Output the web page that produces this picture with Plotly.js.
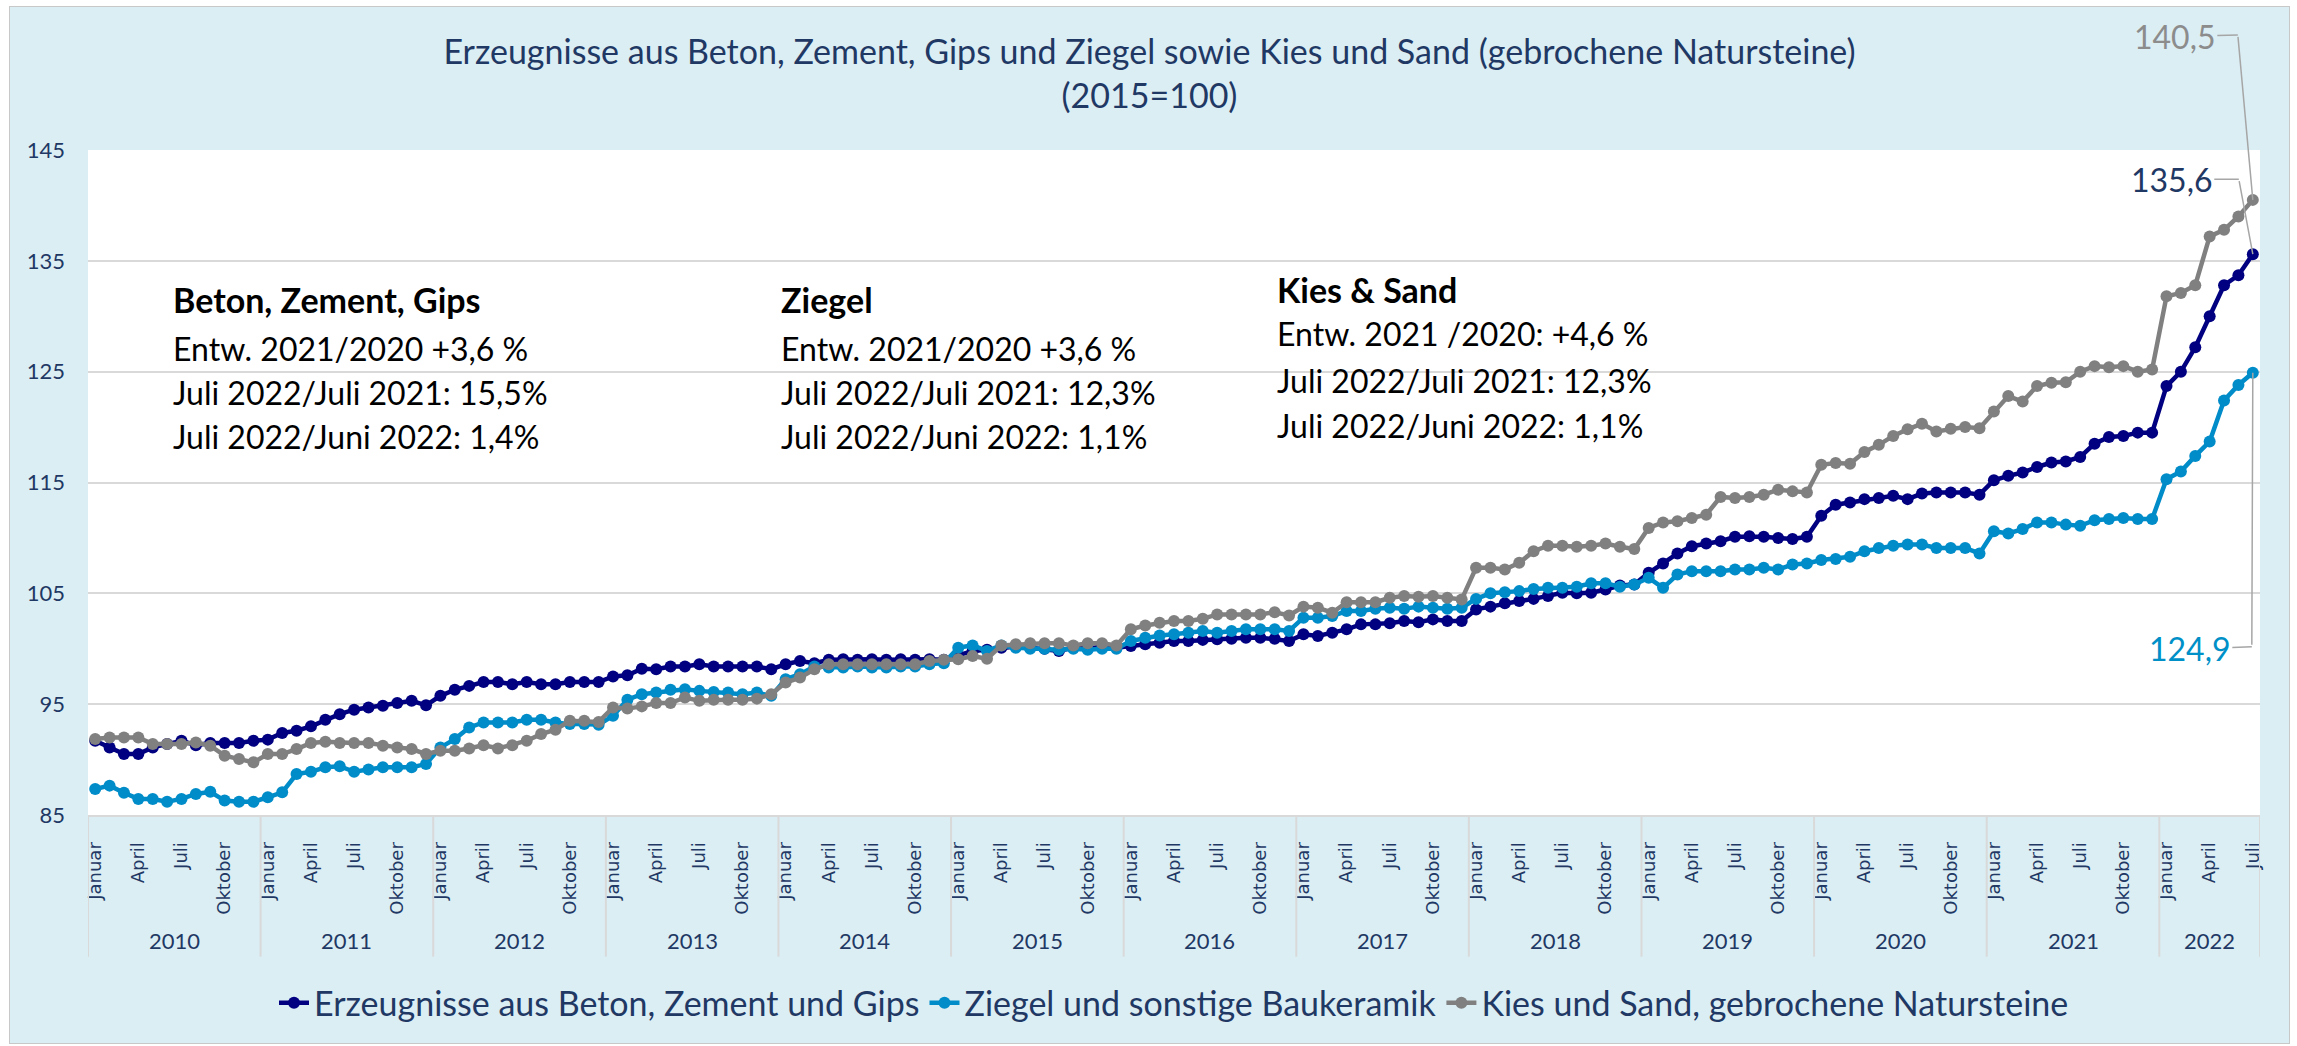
<!DOCTYPE html>
<html>
<head>
<meta charset="utf-8">
<script src="https://cdn.plot.ly/plotly-3.0.1.min.js"></script>
<style>
html, body { margin: 0; padding: 0; background: #ffffff; }
#frame { position: absolute; left: 9px; top: 6px; border: 1px solid #C8C8C8; width: 2279px; height: 1036px; }
#chart { width: 2279px; height: 1036px; }
</style>
</head>
<body>
<div id="frame"><div id="chart"></div></div>
<script>
// ---------- data ----------
const years = [2010, 2011, 2012, 2013, 2014, 2015, 2016, 2017, 2018, 2019, 2020, 2021, 2022];
const monthNames = ['Januar', 'Februar', 'März', 'April', 'Mai', 'Juni', 'Juli', 'August', 'September', 'Oktober', 'November', 'Dezember'];
const labelledMonths = ['Januar', 'April', 'Juli', 'Oktober'];
const seriesNames = ['Erzeugnisse aus Beton, Zement und Gips', 'Ziegel und sonstige Baukeramik', 'Kies und Sand, gebrochene Natursteine'];

// Erzeugnisse aus Beton, Zement und Gips (Jan 2010 - Jul 2022)
const beton = [
  91.7, 91.1, 90.5, 90.5, 91.1, 91.4, 91.7, 91.3, 91.5, 91.5, 91.5, 91.7,
  91.8, 92.4, 92.6, 93.0, 93.6, 94.1, 94.5, 94.7, 94.85, 95.1, 95.3, 94.9,
  95.75, 96.3, 96.65, 97.0, 97.0, 96.8, 97.0, 96.8, 96.8, 97.0, 97.0, 97.0,
  97.5, 97.6, 98.2, 98.15, 98.4, 98.4, 98.6, 98.4, 98.4, 98.4, 98.4, 98.15,
  98.6, 98.9, 98.7, 99.0, 99.05, 99.0, 99.05, 99.0, 99.05, 99.0, 99.05, 99.0,
  99.4, 99.8, 99.9, 100.1, 100.2, 100.1, 100.0, 99.8, 100.1, 100.0, 100.2, 100.1,
  100.25, 100.4, 100.55, 100.7, 100.7, 100.8, 100.85, 100.9, 101.0, 101.0, 100.9, 100.7,
  101.3, 101.15, 101.45, 101.75, 102.2, 102.2, 102.3, 102.5, 102.4, 102.65, 102.5, 102.5,
  103.55, 103.8, 104.1, 104.3, 104.5, 104.75, 105.05, 105.0, 105.05, 105.35, 105.7, 105.8,
  106.85, 107.7, 108.6, 109.25, 109.5, 109.7, 110.1, 110.15, 110.1, 110.0, 109.9, 110.1,
  112.0, 113.0, 113.2, 113.5, 113.6, 113.8, 113.5, 114.0, 114.1, 114.1, 114.1, 113.9,
  115.2, 115.6, 115.9, 116.4, 116.8, 116.9, 117.3, 118.5, 119.1, 119.2, 119.5, 119.5,
  123.7, 125.0, 127.2, 130.0, 132.8, 133.7, 135.6
];

// Ziegel und sonstige Baukeramik
const ziegel = [
  87.35, 87.65, 87.0, 86.45, 86.45, 86.2, 86.45, 86.9, 87.1, 86.3, 86.2, 86.2,
  86.6, 87.05, 88.7, 88.9, 89.3, 89.4, 88.9, 89.1, 89.3, 89.3, 89.3, 89.6,
  91.1, 91.85, 92.9, 93.35, 93.35, 93.35, 93.6, 93.6, 93.35, 93.2, 93.2, 93.15,
  93.95, 95.4, 95.9, 96.05, 96.3, 96.35, 96.2, 96.1, 96.05, 95.9, 96.05, 95.75,
  97.25, 97.7, 98.4, 98.3, 98.3, 98.4, 98.3, 98.3, 98.4, 98.4, 98.6, 98.7,
  100.1, 100.3, 99.8, 100.3, 100.1, 100.0, 100.0, 99.9, 100.0, 99.9, 100.0, 100.0,
  100.7, 101.0, 101.2, 101.3, 101.45, 101.6, 101.45, 101.6, 101.75, 101.75, 101.75, 101.6,
  102.8, 102.8, 102.95, 103.4, 103.4, 103.6, 103.7, 103.6, 103.8, 103.7, 103.6, 103.7,
  104.5, 105.0, 105.1, 105.2, 105.4, 105.5, 105.5, 105.6, 105.9, 105.9, 105.6, 105.8,
  106.4, 105.5, 106.7, 107.0, 107.0, 107.0, 107.15, 107.15, 107.3, 107.15, 107.6, 107.7,
  108.0, 108.1, 108.3, 108.8, 109.1, 109.3, 109.4, 109.4, 109.1, 109.1, 109.1, 108.6,
  110.6, 110.4, 110.8, 111.4, 111.4, 111.2, 111.1, 111.6, 111.7, 111.8, 111.7, 111.7,
  115.3, 116.0, 117.4, 118.7, 122.4, 123.8, 124.9
];

// Kies und Sand, gebrochene Natursteine
const kies = [
  91.85, 92.0, 92.0, 92.0, 91.4, 91.4, 91.4, 91.55, 91.25, 90.35, 90.05, 89.75,
  90.5, 90.5, 90.95, 91.5, 91.6, 91.5, 91.5, 91.5, 91.25, 91.1, 90.95, 90.5,
  90.8, 90.8, 91.0, 91.3, 91.0, 91.3, 91.7, 92.3, 92.7, 93.5, 93.5, 93.4,
  94.7, 94.6, 94.8, 95.1, 95.1, 95.6, 95.3, 95.4, 95.4, 95.4, 95.5, 95.9,
  96.95, 97.4, 98.15, 98.6, 98.6, 98.6, 98.6, 98.6, 98.6, 98.6, 98.9, 99.0,
  99.05, 99.35, 99.1, 100.3, 100.4, 100.5, 100.5, 100.5, 100.3, 100.5, 100.5, 100.3,
  101.75, 102.1, 102.35, 102.5, 102.5, 102.7, 103.1, 103.1, 103.1, 103.1, 103.3, 103.0,
  103.8, 103.7, 103.25, 104.2, 104.2, 104.2, 104.6, 104.75, 104.7, 104.75, 104.6, 104.45,
  107.3, 107.3, 107.15, 107.75, 108.8, 109.3, 109.3, 109.2, 109.3, 109.5, 109.2, 109.0,
  110.9, 111.4, 111.5, 111.8, 112.1, 113.7, 113.6, 113.7, 113.9, 114.35, 114.2, 114.1,
  116.6, 116.75, 116.7, 117.75, 118.4, 119.2, 119.8, 120.3, 119.6, 119.85, 120.0, 119.9,
  121.4, 122.8, 122.3, 123.7, 124.0, 124.05, 125.0, 125.5, 125.4, 125.5, 125.0, 125.2,
  131.8, 132.1, 132.8, 137.2, 137.8, 139.0, 140.5
];

const infoBlocks = [
  ['Beton, Zement, Gips', 'Entw. 2021/2020 +3,6 %', 'Juli 2022/Juli 2021: 15,5%', 'Juli 2022/Juni 2022: 1,4%'],
  ['Ziegel', 'Entw. 2021/2020 +3,6 %', 'Juli 2022/Juli 2021: 12,3%', 'Juli 2022/Juni 2022: 1,1%'],
  ['Kies & Sand', 'Entw. 2021 /2020: +4,6 %', 'Juli 2022/Juli 2021: 12,3%', 'Juli 2022/Juni 2022: 1,1%']
];

// ---------- styling ----------
const NAVY_TEXT = '#1F3864';
const colors = ['#000080', '#008CC8', '#808080'];
const labelColors = ['#1F3864', '#0090C8', '#8C8C8C'];
const FONT = 'Lato, "Liberation Sans", sans-serif';

// month index positions
const n = beton.length;
const idx = beton.map((_, i) => i);
const tickvals = [], ticktext = [];
idx.forEach(i => {
  const m = monthNames[i % 12];
  if (labelledMonths.includes(m)) { tickvals.push(i); ticktext.push(m); }
});

const seriesData = [beton, ziegel, kies];
const traces = seriesData.map((s, k) => ({
  type: 'scatter', mode: 'lines+markers', name: seriesNames[k],
  x: idx, y: s,
  line: { color: colors[k], width: 4.5 },
  marker: { color: colors[k], size: 12 },
  cliponaxis: false
}));

const annotations = [];
const shapes = [];

// year labels + dividers
years.forEach((yr, j) => {
  const first = j * 12;
  const last = Math.min(first + 11, n - 1);
  annotations.push({
    xref: 'x', yref: 'paper', x: (first + last) / 2, y: -0.188,
    text: String(yr), showarrow: false, yanchor: 'middle',
    font: { family: FONT, size: 22, color: NAVY_TEXT }
  });
  shapes.push({
    type: 'line', xref: 'x', yref: 'paper', x0: first - 0.5, x1: first - 0.5, y0: 0, y1: -0.213,
    line: { color: '#D9D9D9', width: 2 }
  });
});
shapes.push({
  type: 'line', xref: 'x', yref: 'paper', x0: n - 0.5, x1: n - 0.5, y0: 0, y1: -0.213,
  line: { color: '#D9D9D9', width: 2 }
});

// info text blocks
const blockX = [0.0382, 0.318, 0.5465];
const blockY = [
  [0.775, 0.701, 0.635, 0.569],
  [0.775, 0.701, 0.635, 0.569],
  [0.790, 0.724, 0.654, 0.586]
];
infoBlocks.forEach((blk, b) => {
  blk.forEach((line, l) => {
    annotations.push({
      xref: 'paper', yref: 'paper', x: blockX[b], y: blockY[b][l],
      xanchor: 'left', yanchor: 'middle', showarrow: false,
      text: l === 0 ? '<b>' + line + '</b>' : line,
      font: { family: FONT, size: l === 0 ? 34 : 32, color: '#000000' }
    });
  });
});

// end-value labels with leader lines
function fmt(v) { return v.toFixed(1).replace('.', ','); }
const lastIdx = n - 1;
const leaders = [
  { k: 0, ex: -14, ey: -75, lx: -67, ly: 0 },
  { k: 1, ex: -1, ey: 274, lx: -62, ly: 2 },
  { k: 2, ex: -15, ey: -165, lx: -63, ly: 2 }
];
leaders.forEach(L => {
  const v = seriesData[L.k][lastIdx];
  annotations.push({
    xref: 'x', yref: 'y', x: lastIdx, y: v, text: ' ',
    font: { size: 1 }, showarrow: true, arrowhead: 0, arrowwidth: 1.5, arrowcolor: '#A6A6A6',
    ax: L.ex, ay: L.ey, standoff: 0, startstandoff: 0
  });
  annotations.push({
    xref: 'x', yref: 'y', x: lastIdx, y: v, text: fmt(v),
    xshift: L.ex, yshift: -L.ey, ax: L.lx, ay: L.ly,
    showarrow: true, arrowhead: 0, arrowwidth: 1.5, arrowcolor: '#A6A6A6', standoff: 0,
    font: { family: FONT, size: 32, color: labelColors[L.k] }
  });
});

const layout = {
  width: 2279, height: 1036,
  paper_bgcolor: '#DBEEF4', plot_bgcolor: '#FFFFFF',
  margin: { l: 78, r: 29, t: 143, b: 227 },
  font: { family: FONT, color: NAVY_TEXT },
  title: {
    text: 'Erzeugnisse aus Beton, Zement, Gips und Ziegel sowie Kies und Sand (gebrochene Natursteine)<br>(2015=100)',
    font: { family: FONT, size: 34, color: NAVY_TEXT },
    x: 0.5, xanchor: 'center', xref: 'container', yref: 'container', y: 1 - 57 / 1036, yanchor: 'middle'
  },
  showlegend: true,
  legend: {
    orientation: 'h', x: 0.5, xanchor: 'center', y: -0.281, yanchor: 'middle',
    font: { family: FONT, size: 34, color: NAVY_TEXT }, bgcolor: 'rgba(0,0,0,0)'
  },
  xaxis: {
    type: 'linear', range: [-0.5, n - 0.5], tickmode: 'array', tickvals: tickvals, ticktext: ticktext,
    tickangle: -90, tickfont: { family: '"DejaVu Sans", sans-serif', size: 18, color: NAVY_TEXT },
    showgrid: false, zeroline: false, showline: true, linecolor: '#D9D9D9', linewidth: 2,
    ticks: '', ticklabelstandoff: 18, fixedrange: true
  },
  yaxis: {
    range: [85, 145], dtick: 10, tick0: 85, showgrid: true, gridcolor: '#D9D9D9', gridwidth: 2,
    zeroline: false, showline: false, ticks: '', ticklabelstandoff: 22,
    tickfont: { family: FONT, size: 22, color: NAVY_TEXT }, fixedrange: true
  },
  annotations: annotations,
  shapes: shapes
};

Plotly.newPlot('chart', traces, layout, { displayModeBar: false, staticPlot: true });
</script>
</body>
</html>
